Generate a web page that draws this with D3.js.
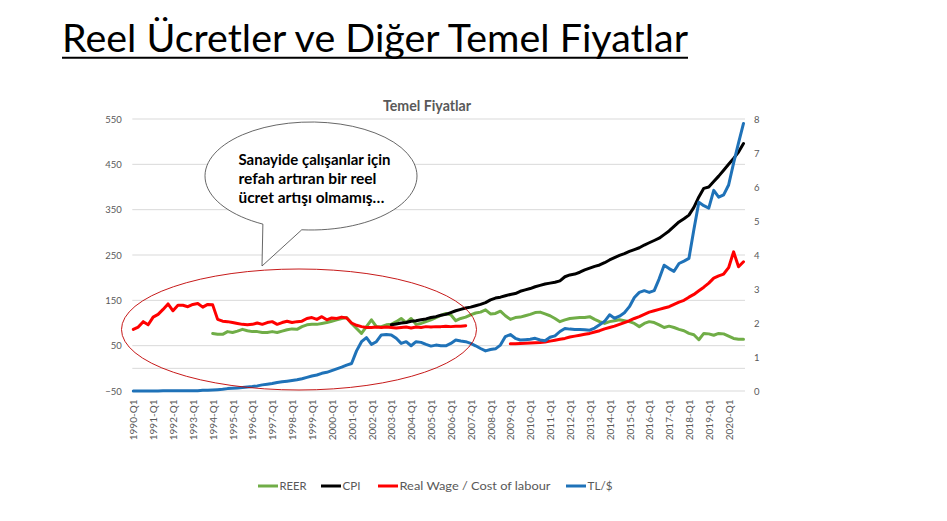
<!DOCTYPE html>
<html><head><meta charset="utf-8">
<script src="https://cdn.jsdelivr.net/npm/d3@7/dist/d3.min.js"></script>
<style>body{margin:0;background:#fff}svg{display:block}</style>
</head><body><svg id="c" width="947" height="521"></svg>
<script>
// ---------- data ----------
const years = d3.range(1990, 2021);
const categories = [];
years.forEach(y => ["Q1","Q2","Q3","Q4"].forEach(q => categories.push(y + "-" + q)));
const xTickLabels = categories.filter(c => c.endsWith("Q1"));
const leftTicks = [-50, 50, 150, 250, 350, 450, 550];
const rightTicks = [0, 1, 2, 3, 4, 5, 6, 7, 8];

const seriesNames = ["REER", "CPI", "Real Wage / Cost of labour", "TL/$"];

// REER from 1994-Q1 (left axis)
const reerStart = "1994-Q1";
const reer = [77,75,75,81,79,82,86,83, 81,81,79,79,81,79,82,85, 87,86,92,96,97,97,99,101,
  104,107,110,112,99,88,77,92, 107,92,92,96,97,103,110,101, 110,97,99,103,107,112,117,121,
  118,105,110,113,118,122,124,129, 120,121,126,116,108,112,113,116, 119,123,124,120,116,110,103,107,
  110,111,112,112,114,108,103,99, 103,105,107,105,103,99,92,99, 103,101,96,90,93,90,86,83,
  77,74,63,77,76,73,77,76, 71,66,64,64];

// CPI from 2003-Q1 (left axis)
const cpiStart = "2003-Q1";
const cpi = [96,98,100,101, 104,105,107,109, 112,114,117,119, 123,127,130,133, 135,138,141,145,
  151,155,157,160, 163,165,170,173, 176,180,183,186, 188,190,193,202, 206,208,212,217,
  221,225,228,233, 239,244,249,253, 258,262,266,272, 277,282,287,295, 303,313,323,330,
  338,355,378,397, 400,412,424,437, 450,463,477,496];

// Real wage 1990-Q1..2006-Q4 (left axis)
const wageStart = "1990-Q1";
const wage = [86,91,103,96, 113,119,130,142, 127,139,139,136, 141,143,135,141,
  140,108,104,103, 101,99,97,96, 97,100,97,101, 103,97,101,104,
  101,103,104,110, 112,108,114,107, 111,110,113,111, 100,95,92,90,
  90,91,90,91, 90,89,90,91, 89,91,90,92, 91,92,92,93, 92,93,93,94];

// Cost of labour 2009-Q1..2020-Q4 (left axis)
const labourStart = "2009-Q1";
const labour = [54,54.5,55,55.5, 56,56.5,57,58, 60,62,64,66, 69,71,73,75,
  77,80,83,87, 90,93,97,101, 105,110,114,119, 124,127,130,133,
  136,141,146,150, 157,163,171,179, 188,199,204,208, 222,257,224,235];

// TL/$ 1990-Q1..2020-Q4 (right axis)
const tlStart = "1990-Q1";
const tl = [0.00,0.00,0.00,0.00, 0.00,0.00,0.01,0.01, 0.01,0.01,0.01,0.01, 0.01,0.01,0.02,0.02,
  0.03,0.04,0.05,0.07, 0.08,0.09,0.10,0.12, 0.13,0.15,0.18,0.20, 0.22,0.25,0.27,0.29,
  0.31,0.33,0.36,0.40, 0.44,0.47,0.52,0.55, 0.60,0.65,0.70,0.76, 0.81,1.18,1.45,1.57,
  1.37,1.45,1.65,1.66, 1.65,1.55,1.40,1.45, 1.33,1.45,1.43,1.37, 1.32,1.35,1.33,1.33,
  1.40,1.50,1.47,1.45, 1.40,1.33,1.25,1.18, 1.22,1.24,1.35,1.60, 1.66,1.55,1.50,1.51,
  1.52,1.55,1.50,1.48, 1.58,1.62,1.75,1.84, 1.82,1.81,1.81,1.80, 1.79,1.85,1.95,2.05,
  2.24,2.14,2.20,2.30, 2.48,2.75,2.90,2.95, 2.90,2.95,3.30,3.70, 3.60,3.52,3.75,3.82,
  3.90,4.75,5.55,5.45, 5.38,5.90,5.70,5.77, 6.06,6.70,7.30,7.87];

// ---------- build ----------
function toPoints(start, vals){
  const s = categories.indexOf(start);
  return vals.map((v,i) => ({c: categories[s+i], v}));
}

const svg = d3.select("#c");
const plot = {left: 133.3, right: 743.5, top: 119, bottom: 391};

const x = d3.scalePoint().domain(categories).range([plot.left, plot.right]);
const yL = d3.scaleLinear().domain([-50, 550]).range([plot.bottom, plot.top]);
const yR = d3.scaleLinear().domain([0, 8]).range([plot.bottom, plot.top]);

const FONT = "Lato, 'Open Sans', sans-serif";
const GRAY = "#595959";

// Page title
svg.append("text").attr("x", 62).attr("y", 51.5)
  .attr("font-family", FONT).attr("font-size", 38.5).attr("fill", "#000")
  .attr("textLength", 626).attr("lengthAdjust", "spacingAndGlyphs")
  .text("Reel Ücretler ve Diğer Temel Fiyatlar");
svg.append("line").attr("x1", 62).attr("x2", 688).attr("y1", 57.8).attr("y2", 57.8)
  .attr("stroke", "#000").attr("stroke-width", 2);

// Chart title
svg.append("text").attr("x", 427).attr("y", 111).attr("text-anchor", "middle")
  .attr("font-family", FONT).attr("font-weight", "bold").attr("font-size", 14.2)
  .attr("fill", GRAY).text("Temel Fiyatlar");

// Grid
svg.append("g").selectAll("line").data(leftTicks.concat([0])).join("line")
  .attr("x1", plot.left - 1).attr("x2", plot.right + 1.5)
  .attr("y1", d => yL(d)).attr("y2", d => yL(d))
  .attr("stroke", "#d9d9d9").attr("stroke-width", 1);

// Left axis
const gl = svg.append("g").attr("transform", `translate(${plot.left - 11.5},0)`)
  .call(d3.axisLeft(yL).tickValues(leftTicks).tickSize(0).tickPadding(0));
gl.select(".domain").remove();
gl.selectAll("text").attr("font-family", FONT).attr("font-size", 9.5).attr("fill", GRAY);

// Right axis
const gr = svg.append("g").attr("transform", `translate(${plot.right + 10.5},0)`)
  .call(d3.axisRight(yR).tickValues(rightTicks).tickSize(0).tickPadding(0));
gr.select(".domain").remove();
gr.selectAll("text").attr("font-family", FONT).attr("font-size", 9.5).attr("fill", GRAY);

// Bottom axis
const gb = svg.append("g").attr("transform", `translate(0,${plot.bottom})`)
  .call(d3.axisBottom(x).tickValues(xTickLabels).tickSize(0).tickPadding(0));
gb.select(".domain").remove();
gb.selectAll("text").attr("font-family", FONT).attr("font-size", 10).attr("fill", GRAY)
  .attr("text-anchor", "end").attr("transform", "rotate(-90)")
  .attr("x", -8.5).attr("y", 0).attr("dy", "0.36em");

// Lines
const colors = {REER: "#70ad47", CPI: "#000000", wage: "#ff0000", tl: "#1f72b8"};
function drawLine(pts, scale, color){
  const line = d3.line().defined(d => d.v != null).x(d => x(d.c)).y(d => scale(d.v));
  svg.append("path").datum(pts).attr("d", line).attr("fill", "none")
    .attr("stroke", color).attr("stroke-width", 3).attr("stroke-linejoin", "round").attr("stroke-linecap", "round");
}
drawLine(toPoints(reerStart, reer), yL, colors.REER);
drawLine(toPoints(cpiStart, cpi), yL, colors.CPI);
drawLine(toPoints(wageStart, wage), yL, colors.wage);
drawLine(toPoints(labourStart, labour), yL, colors.wage);
drawLine(toPoints(tlStart, tl), yR, colors.tl);

// Red ellipse annotation
svg.append("ellipse").attr("cx", 299).attr("cy", 329.5).attr("rx", 177.5).attr("ry", 60.5)
  .attr("fill", "none").attr("stroke", "#c00000").attr("stroke-width", 0.9);

// Speech bubble
const cx = 311, cy = 176, rx = 106, ry = 54;
const a1 = 95 * Math.PI/180, a2 = 117 * Math.PI/180;
const p1 = [cx + rx*Math.cos(a1), cy + ry*Math.sin(a1)];
const p2 = [cx + rx*Math.cos(a2), cy + ry*Math.sin(a2)];
svg.append("path")
  .attr("d", `M${p1[0]},${p1[1]} A${rx},${ry} 0 1 0 ${p2[0]},${p2[1]} L262,266 Z`)
  .attr("fill", "#fff").attr("stroke", "#404040").attr("stroke-width", 0.8);
const bubbleLines = ["Sanayide çalışanlar için", "refah artıran bir reel", "ücret artışı olmamış…"];
const bubbleWidths = [152, 138, 146];
svg.append("g").selectAll("text").data(bubbleLines).join("text")
  .attr("x", 238.5).attr("y", (d,i) => 164.5 + i*19.2)
  .attr("font-family", FONT).attr("font-weight", "bold").attr("font-size", 14.3).attr("fill", "#000")
  .attr("textLength", (d,i) => bubbleWidths[i]).attr("lengthAdjust", "spacingAndGlyphs")
  .text(d => d);

// Legend
const legendItems = [
  {name: seriesNames[0], color: colors.REER, x: 258, w: 27},
  {name: seriesNames[1], color: colors.CPI, x: 321, w: 18},
  {name: seriesNames[2], color: colors.wage, x: 378, w: 151},
  {name: seriesNames[3], color: colors.tl, x: 566, w: 25}
];
const lg = svg.append("g").selectAll("g").data(legendItems).join("g")
  .attr("transform", d => `translate(${d.x},486)`);
lg.append("line").attr("x1", 0).attr("x2", 20).attr("y1", 0).attr("y2", 0)
  .attr("stroke", d => d.color).attr("stroke-width", 3);
lg.append("text").attr("x", 21.5).attr("y", 0).attr("dy", "0.35em")
  .attr("font-family", FONT).attr("font-size", 12.3).attr("fill", GRAY)
  .attr("textLength", d => d.w).attr("lengthAdjust", "spacingAndGlyphs")
  .text(d => d.name);
</script></body></html>
